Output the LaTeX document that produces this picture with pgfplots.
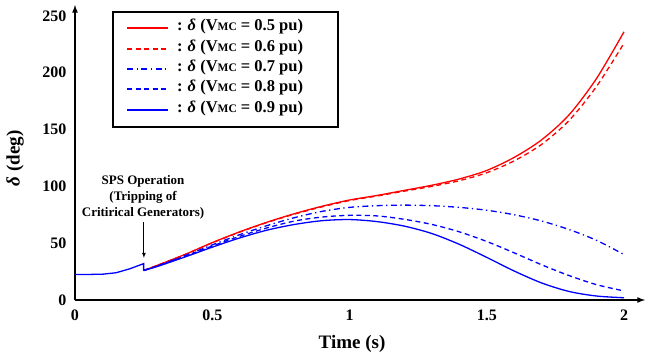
\documentclass[border=0pt]{standalone}
\usepackage{fontspec}
\setmainfont{Liberation Serif}
\usepackage{pgfplots}
\pgfplotsset{compat=1.18}
\newcommand{\vmc}{V{\fontsize{11.5}{11.5}\selectfont MC}}
\newcommand{\dl}{\textit{δ}}
\tikzset{
  sA/.style={red, line width=1.3pt},
  sB/.style={red, line width=1.3pt, dash pattern=on 5pt off 3.5pt},
  sC/.style={blue, line width=1.3pt, dash pattern=on 6pt off 3.5pt on 1.3pt off 3.5pt},
  sD/.style={blue, line width=1.3pt, dash pattern=on 5pt off 3.5pt},
  sE/.style={blue, line width=1.3pt},
  legtxt/.style={anchor=mid west, inner sep=0pt, font=\fontsize{16.5}{18}\selectfont\bfseries},
}
\begin{document}
\begin{tikzpicture}
\begin{axis}[
  at={(0pt,0pt)}, anchor=south west,
  scale only axis, width=570pt, height=295pt,
  xmin=0, xmax=2.0765, ymin=0, ymax=259.6,
  axis lines=left,
  axis line style={line width=1.6pt, -latex},
  xtick={0,0.5,1,1.5,2}, xticklabels={0,0.5,1,1.5,2},
  ytick={0,50,100,150,200,250},
  major tick length=0pt,
  tick label style={font=\fontsize{16}{16}\selectfont\bfseries},
  yticklabel style={xshift=-5pt},
  xticklabel style={yshift=-6pt},
  /pgf/number format/assume math mode=true,
  xlabel={Time (s)}, ylabel={\dl{} (deg)},
  label style={font=\fontsize{19}{19}\selectfont\bfseries},
  x label style={at={(axis description cs:0.486,-0.149)}, anchor=center},
  y label style={at={(axis description cs:-0.105,0.48)}, anchor=center},
]
\addplot[sA, smooth] coordinates {(0.25,26) (0.3,30.5) (0.4,40) (0.5,50.5) (0.6,60) (0.7,68.5) (0.8,76) (0.9,82.5) (1.0,88) (1.1,92) (1.2,96.5) (1.3,101) (1.4,106.5) (1.5,114) (1.6,125.5) (1.7,141) (1.8,163) (1.9,195) (2.0,236)};
\addplot[sB, smooth] coordinates {(0.25,26) (0.3,30.5) (0.4,40) (0.5,50.3) (0.6,59.7) (0.7,68.2) (0.8,75.6) (0.9,82) (1.0,87.5) (1.1,91.5) (1.2,95.8) (1.3,100) (1.4,105) (1.5,112) (1.6,122.5) (1.7,137) (1.8,158) (1.9,188) (2.0,226)};
\addplot[sC, smooth] coordinates {(0.25,26) (0.3,30) (0.4,39) (0.5,48.5) (0.6,57.5) (0.7,65.5) (0.8,72.5) (0.9,78) (1.0,81.5) (1.1,83) (1.2,83.5) (1.3,83) (1.4,81.5) (1.5,79) (1.6,75) (1.7,69.5) (1.8,62) (1.9,52.5) (2.0,40)};
\addplot[sD, smooth] coordinates {(0.25,26) (0.3,30) (0.4,38.5) (0.5,47.5) (0.6,56) (0.7,63.5) (0.8,69.5) (0.9,73) (1.0,74.5) (1.1,74) (1.2,71) (1.3,66.5) (1.4,60) (1.5,51.5) (1.6,41.5) (1.7,31) (1.8,21.5) (1.9,13.5) (2.0,8)};
\addplot[sE, smooth] coordinates {(0.25,26) (0.3,29.5) (0.4,37.8) (0.5,46.5) (0.6,54.6) (0.7,61.5) (0.8,66.5) (0.9,69.8) (1.0,70.8) (1.1,69) (1.2,65) (1.3,58.5) (1.4,49) (1.5,37.5) (1.6,25.5) (1.7,15) (1.8,7.5) (1.9,3.5) (2.0,2)};
\addplot[sE] coordinates {(0,22.5) (0.05,22.5) (0.1,22.7) (0.15,24) (0.2,27.5) (0.25,32) (0.25,26)};
\draw[-latex, line width=0.8pt] (axis cs:0.251,68.7) -- (axis cs:0.251,37);
\node[align=center, font=\fontsize{13}{16}\selectfont\bfseries] at (axis cs:0.248,90.7) {SPS Operation\\(Tripping of\\Critirical Generators)};
\end{axis}
% legend
\draw[black, line width=1.2pt, fill=white] (38pt,288pt) rectangle (263pt,173pt);
\draw[sA] (52pt,272pt) -- (93pt,272pt);
\node[legtxt] at (102pt,272pt) {:\hspace{5pt}\dl{} (\vmc{} = 0.5 pu)};
\draw[sB] (52pt,251pt) -- (93pt,251pt);
\node[legtxt] at (102pt,251pt) {:\hspace{5pt}\dl{} (\vmc{} = 0.6 pu)};
\draw[sC] (52pt,231pt) -- (93pt,231pt);
\node[legtxt] at (102pt,231pt) {:\hspace{5pt}\dl{} (\vmc{} = 0.7 pu)};
\draw[sD] (52pt,211pt) -- (93pt,211pt);
\node[legtxt] at (102pt,211pt) {:\hspace{5pt}\dl{} (\vmc{} = 0.8 pu)};
\draw[sE] (52pt,190pt) -- (93pt,190pt);
\node[legtxt] at (102pt,190pt) {:\hspace{5pt}\dl{} (\vmc{} = 0.9 pu)};
\pgfresetboundingbox
\path[use as bounding box] (-75pt,-60pt) rectangle (577pt,300pt);
\end{tikzpicture}
\end{document}
